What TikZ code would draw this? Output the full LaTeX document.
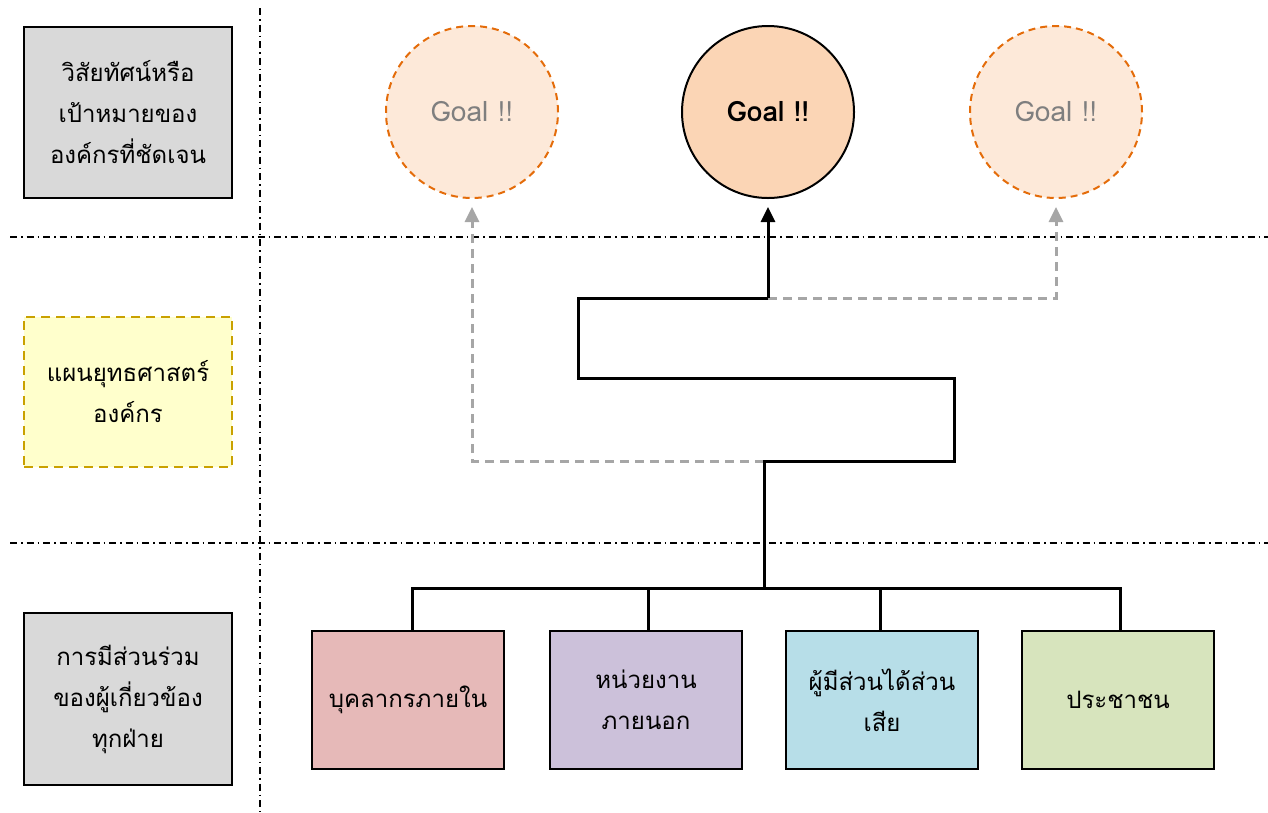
\documentclass[tikz,border=0pt]{standalone}
\usepackage{fontspec}
\newfontfamily\thai[Script=Thai]{Loma}
\usetikzlibrary{arrows.meta}
\definecolor{graybox}{HTML}{D9D9D9}
\definecolor{yelbox}{HTML}{FFFFCC}
\definecolor{yelline}{HTML}{C9A100}
\definecolor{pinkbox}{HTML}{E6B9B8}
\definecolor{purbox}{HTML}{CCC1DA}
\definecolor{bluebox}{HTML}{B7DEE8}
\definecolor{grnbox}{HTML}{D7E4BD}
\definecolor{goalmain}{HTML}{FBD5B5}
\definecolor{goalside}{HTML}{FDE9D9}
\definecolor{orangeline}{HTML}{E46C0A}
\definecolor{conngray}{HTML}{A6A6A6}
\definecolor{goaltext}{HTML}{7F7F7F}
\tikzset{
  lbox/.style={draw=black, line width=2pt, minimum width=208pt, align=center, font=\thai\fontsize{24}{41}\selectfont, inner sep=0pt},
  pbox/.style={draw=black, line width=2pt, minimum width=192pt, minimum height=138pt, align=center, font=\thai\fontsize{24}{41}\selectfont, inner sep=0pt},
  goalc/.style={circle, minimum size=172pt, inner sep=0pt, font=\thai\fontsize{28}{30}\selectfont},
  dd/.style={line width=1.8pt, dash pattern=on 7pt off 4pt on 1.5pt off 4pt},
  blk/.style={line width=3pt, line join=miter},
  gry/.style={line width=3pt, conngray, dash pattern=on 9pt off 6pt},
  tip/.style={-{Triangle[length=15pt,width=14pt]}, shorten >=8pt},
}
\begin{document}
\begin{tikzpicture}[x=1pt,y=-1pt]
\useasboundingbox (0,0) rectangle (1268,812);
% separators
\draw[dd] (260,8) -- (260,812);
\draw[dd] (10,237) -- (1268,237);
\draw[dd] (10,543) -- (1268,543);
% left boxes
\node[lbox, fill=graybox, minimum height=171pt] (vis) at (128,112.5) {วิสัยทัศน์หรือ\\เป้าหมายของ\\องค์กรที่ชัดเจน};
\node[lbox, fill=yelbox, draw=yelline, dash pattern=on 9pt off 6pt, minimum height=150pt] (plan) at (128,392) {แผนยุทธศาสตร์\\องค์กร};
\node[lbox, fill=graybox, minimum height=172pt] (part) at (128,699) {การมีส่วนร่วม\\ของผู้เกี่ยวข้อง\\ทุกฝ่าย};
% goals
\node[goalc, fill=goalside, draw=orangeline, line width=2pt, dash pattern=on 7pt off 5pt, text=goaltext] (gl) at (472,112) {\raisebox{-2pt}{Goal !!}};
\node[goalc, fill=goalmain, draw=black, line width=2pt, font=\thai\bfseries\fontsize{28}{30}\selectfont] (gc) at (768,112) {\raisebox{-2pt}{Goal !!}};
\node[goalc, fill=goalside, draw=orangeline, line width=2pt, dash pattern=on 7pt off 5pt, text=goaltext] (gr) at (1056,112) {\raisebox{-2pt}{Goal !!}};
% stakeholder boxes
\node[pbox, fill=pinkbox] (p1) at (408,700) {บุคลากรภายใน};
\node[pbox, fill=purbox] (p2) at (646,700) {หน่วยงาน\\ภายนอก};
\node[pbox, fill=bluebox] (p3) at (882,700) {ผู้มีส่วนได้ส่วน\\เสีย};
\node[pbox, fill=grnbox] (p4) at (1118,700) {ประชาชน};
% connector coordinates
\coordinate (hub) at (764,588);
\coordinate (k1) at (764,461);
\coordinate (k2) at (954,461);
\coordinate (k3) at (954,378);
\coordinate (k4) at (578,378);
\coordinate (k5) at (578,298);
\coordinate (k6) at (768,298);
% gray dashed connectors
\draw[gry, tip] (k1) -| (gl.south);
\draw[gry, tip] (k6) -| (gr.south);
% black connectors
\draw[blk] ([xshift=4pt]p1.north) |- (hub) -| ([xshift=2pt]p4.north);
\draw[blk] ([xshift=2pt]p2.north) -- ([xshift=2pt]p2.north |- hub);
\draw[blk] ([xshift=-2pt]p3.north) -- ([xshift=-2pt]p3.north |- hub);
\draw[blk] (hub) -- (k1) -- (k2) -- (k3) -- (k4) -- (k5) -- (k6);
\draw[blk, tip] (k6) -- (gc.south);
\end{tikzpicture}
\end{document}
